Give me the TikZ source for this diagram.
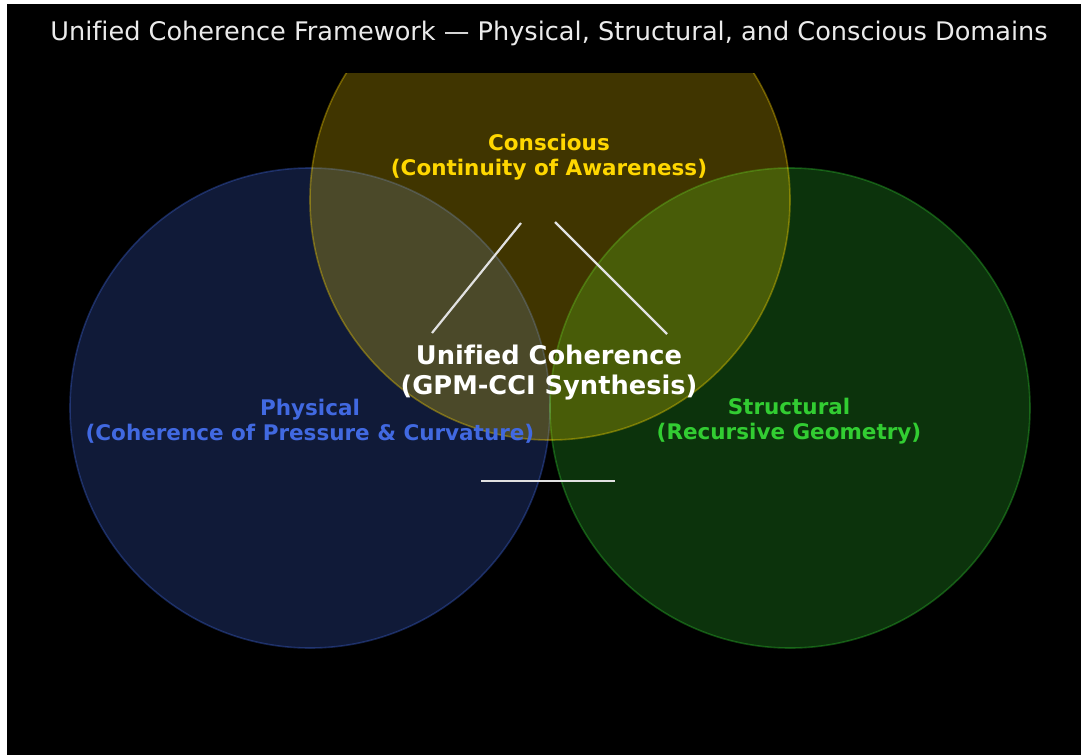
\documentclass[tikz,border=0pt]{standalone}
\usepackage{fontspec}
\setmainfont{DejaVu Sans}[Ligatures=NoCommon]
\definecolor{physblue}{RGB}{65,105,225}
\definecolor{structgreen}{RGB}{50,205,50}
\definecolor{consgold}{RGB}{255,215,0}
\definecolor{linkgrey}{RGB}{225,225,225}
\begin{document}
\begin{tikzpicture}[x=1pt,y=-1pt,
  domaindisc/.style={line width=1.6pt,fill opacity=0.25,draw opacity=0.35},
  domlabel/.style={font=\bfseries\fontsize{21.5}{25}\selectfont,align=center,inner sep=0pt},
  centrallabel/.style={font=\bfseries\fontsize{25.7}{30}\selectfont,align=center,text=white,inner sep=0pt},
  link/.style={draw=linkgrey,line width=2.2pt}]
  \useasboundingbox (0,0) rectangle (1081,755);
  \fill[white] (0,0) rectangle (1081,755);
  \fill[black] (7,4) rectangle (1081,755);
  % title
  \node[font=\fontsize{25.6}{30}\selectfont,text=white!92!black,inner sep=0pt] (title) at (549,33)
    {Unified Coherence Framework — Physical, Structural, and Conscious Domains};
  % three overlapping domains
  \begin{scope}
    \clip (7,73) rectangle (1081,755);
    \filldraw[domaindisc,fill=physblue,draw=physblue] (310,408) circle[radius=240];
    \filldraw[domaindisc,fill=structgreen,draw=structgreen] (790,408) circle[radius=240];
    \filldraw[domaindisc,fill=consgold,draw=consgold] (550,200) circle[radius=240];
  \end{scope}
  % labels
  \node[domlabel,text=consgold] (cons) at (549,157.5) {Conscious\\(Continuity of Awareness)};
  \node[domlabel,text=physblue] (phys) at (310,421) {Physical\\(Coherence of Pressure \& Curvature)};
  \node[domlabel,text=structgreen] (struct) at (789,421) {Structural\\(Recursive Geometry)};
  \node[centrallabel] (unified) at (549,373) {Unified Coherence\\(GPM-CCI Synthesis)};
  % links
  \coordinate (a1) at (432,333); \coordinate (a2) at (521,223);
  \coordinate (b1) at (555,222); \coordinate (b2) at (667,334);
  \coordinate (c1) at (481,481); \coordinate (c2) at (615,481);
  \draw[link] (a1) -- (a2);
  \draw[link] (b1) -- (b2);
  \draw[link] (c1) -- (c2);
\end{tikzpicture}
\end{document}
